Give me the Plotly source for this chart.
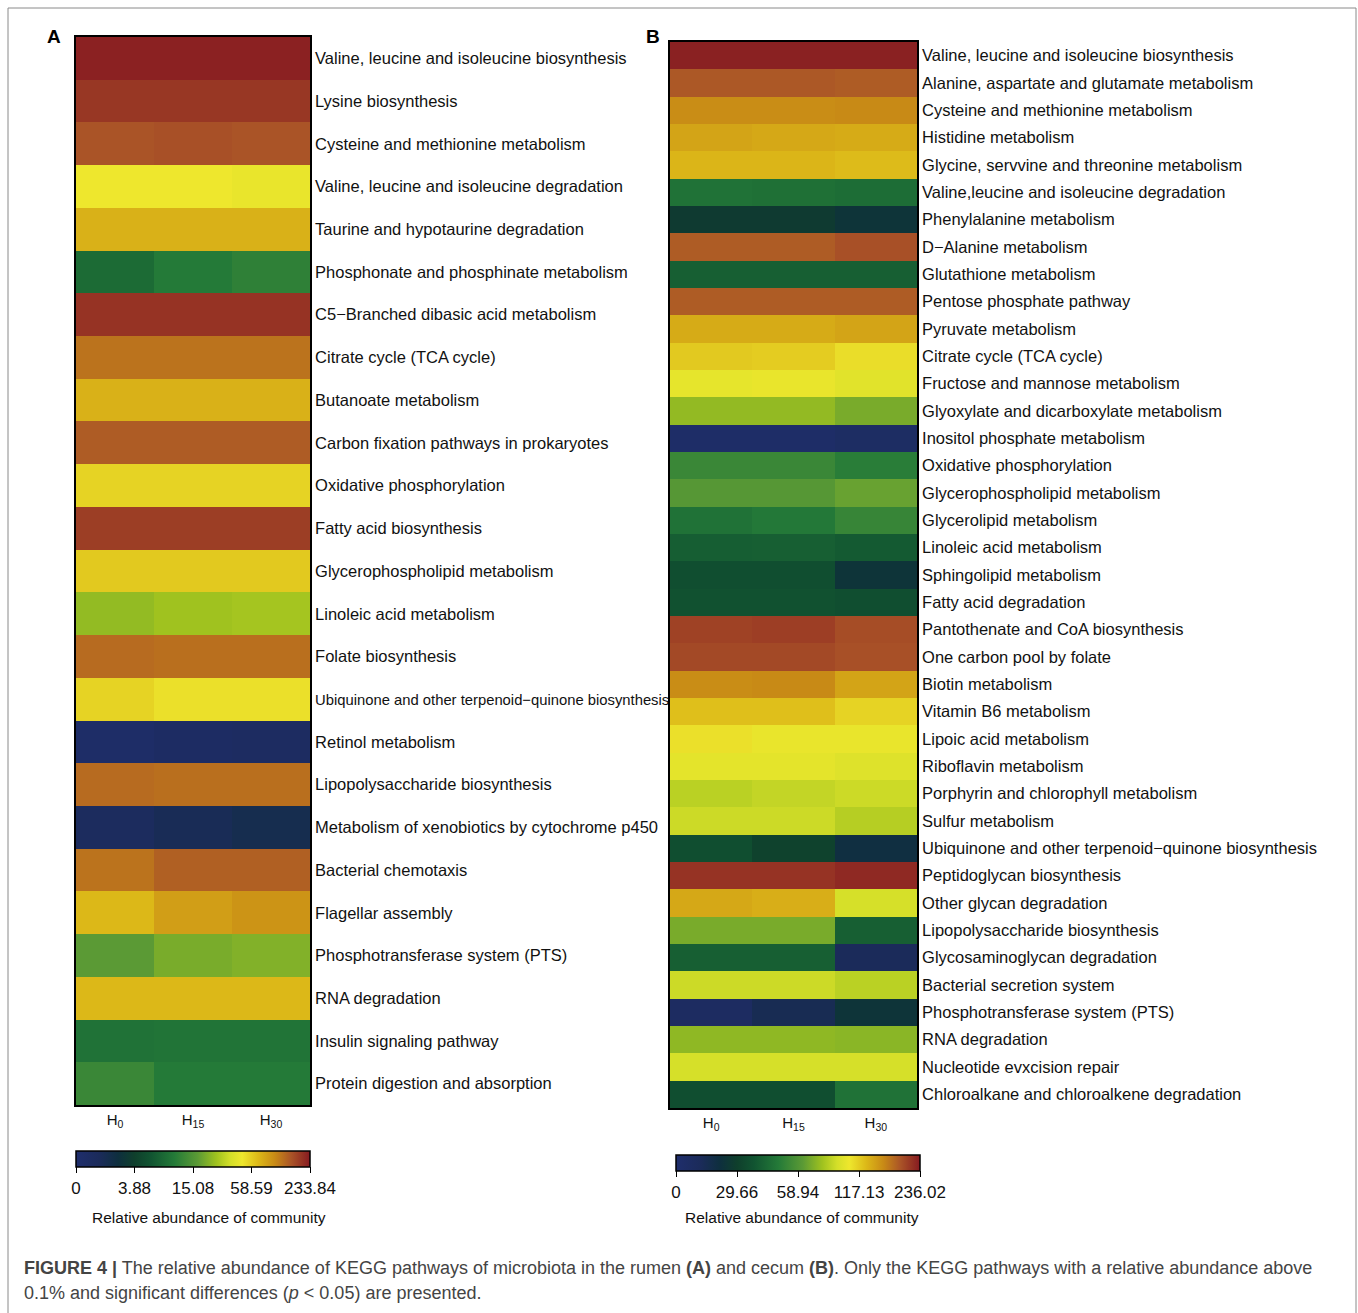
import numpy as np
import plotly.graph_objects as go

# ---------------- data ----------------
samples = ["H0", "H15", "H30"]
sample_labels = ["H<sub>0</sub>", "H<sub>15</sub>", "H<sub>30</sub>"]

pathways_a = [
    "Valine, leucine and isoleucine biosynthesis",
    "Lysine biosynthesis",
    "Cysteine and methionine metabolism",
    "Valine, leucine and isoleucine degradation",
    "Taurine and hypotaurine degradation",
    "Phosphonate and phosphinate metabolism",
    "C5\u2212Branched dibasic acid metabolism",
    "Citrate cycle (TCA cycle)",
    "Butanoate metabolism",
    "Carbon fixation pathways in prokaryotes",
    "Oxidative phosphorylation",
    "Fatty acid biosynthesis",
    "Glycerophospholipid metabolism",
    "Linoleic acid metabolism",
    "Folate biosynthesis",
    "Ubiquinone and other terpenoid\u2212quinone biosynthesis",
    "Retinol metabolism",
    "Lipopolysaccharide biosynthesis",
    "Metabolism of xenobiotics by cytochrome p450",
    "Bacterial chemotaxis",
    "Flagellar assembly",
    "Phosphotransferase system (PTS)",
    "RNA degradation",
    "Insulin signaling pathway",
    "Protein digestion and absorption",
]

h0_a = [226.8, 205.8, 177.8, 51.6, 86.6, 9.7, 209.3, 149.7, 86.6, 170.8, 56.9, 198.8, 62.1,
        29.9, 156.7, 56.9, 0.47, 156.7, 1.24, 149.7, 79.6, 18.6, 79.6, 10.6, 13.3]
h15_a = [226.8, 205.8, 181.3, 51.6, 86.6, 11.5, 209.3, 149.7, 86.6, 170.8, 56.9, 198.8, 62.1,
         32.5, 153.2, 53.4, 0.78, 153.2, 1.71, 167.3, 107.7, 24.7, 79.6, 10.8, 11.5]
h30_a = [226.8, 205.8, 177.8, 49.9, 86.6, 12.4, 209.3, 149.7, 86.6, 170.8, 56.9, 198.8, 62.1,
         33.4, 153.2, 53.4, 0.93, 153.2, 2.02, 167.3, 118.2, 26.4, 79.6, 10.8, 11.5]
ticks_a = [0, 3.88, 15.08, 58.59, 233.84]
ticklabels_a = ["0", "3.88", "15.08", "58.59", "233.84"]

pathways_b = [
    "Valine, leucine and isoleucine biosynthesis",
    "Alanine, aspartate and glutamate metabolism",
    "Cysteine and methionine metabolism",
    "Histidine metabolism",
    "Glycine, servvine and threonine metabolism",
    "Valine,leucine and isoleucine degradation",
    "Phenylalanine metabolism",
    "D\u2212Alanine metabolism",
    "Glutathione metabolism",
    "Pentose phosphate pathway",
    "Pyruvate metabolism",
    "Citrate cycle (TCA cycle)",
    "Fructose and mannose metabolism",
    "Glyoxylate and dicarboxylate metabolism",
    "Inositol phosphate metabolism",
    "Oxidative phosphorylation",
    "Glycerophospholipid metabolism",
    "Glycerolipid metabolism",
    "Linoleic acid metabolism",
    "Sphingolipid metabolism",
    "Fatty acid degradation",
    "Pantothenate and CoA biosynthesis",
    "One carbon pool by folate",
    "Biotin metabolism",
    "Vitamin B6 metabolism",
    "Lipoic acid metabolism",
    "Riboflavin metabolism",
    "Porphyrin and chlorophyll metabolism",
    "Sulfur metabolism",
    "Ubiquinone and other terpenoid\u2212quinone biosynthesis",
    "Peptidoglycan biosynthesis",
    "Other glycan degradation",
    "Lipopolysaccharide biosynthesis",
    "Glycosaminoglycan degradation",
    "Bacterial secretion system",
    "Phosphotransferase system (PTS)",
    "RNA degradation",
    "Nucleotide evxcision repair",
    "Chloroalkane and chloroalkene degradation",
]

h0_b = [231.3, 195.6, 162.3, 145.7, 133.8, 47.2, 27.3, 193.2, 41.4, 193.2, 140.9, 119.5, 104.3,
        78.7, 3.6, 54.3, 61.3, 47.2, 40.8, 35.5, 36.7, 209.9, 205.1, 162.3, 126.6, 110.2, 103.2,
        89.2, 93.9, 35.5, 219.4, 143.3, 71.7, 41.4, 93.9, 7.1, 77.6, 97.3, 35.5]
h15_b = [231.3, 195.6, 162.3, 143.3, 133.8, 46.6, 27.3, 193.2, 41.4, 193.2, 140.9, 117.1, 105.5,
         78.7, 3.6, 54.3, 61.3, 49.0, 41.4, 35.5, 36.7, 212.2, 205.1, 164.7, 126.6, 105.5, 103.2,
         91.5, 93.9, 30.8, 219.4, 138.5, 71.7, 41.4, 93.9, 14.2, 77.6, 97.3, 35.5]
h30_b = [231.3, 193.2, 164.7, 140.9, 129.0, 45.5, 23.7, 200.4, 41.4, 193.2, 145.7, 111.3, 102.0,
         71.7, 5.9, 50.7, 67.1, 53.7, 39.6, 23.7, 35.5, 202.7, 200.4, 145.7, 114.8, 105.5, 100.8,
         93.9, 88.0, 20.2, 226.5, 97.3, 41.4, 11.9, 89.2, 23.7, 76.4, 97.3, 47.2]
ticks_b = [0, 29.66, 58.94, 117.13, 236.02]
ticklabels_b = ["0", "29.66", "58.94", "117.13", "236.02"]

# ---------------- styling ----------------
W, H = 1358, 1313
FONT = "Liberation Sans, Arial, Helvetica, sans-serif"
tick_pos = [0, 0.25, 0.5, 0.75, 1.0]

colorscale = [
    [0.00, "#1f2e6c"],
    [0.10, "#1b2b5a"],
    [0.18, "#0e2f3e"],
    [0.25, "#0f3f2c"],
    [0.32, "#115431"],
    [0.42, "#247a38"],
    [0.52, "#5b9a35"],
    [0.60, "#a0c21f"],
    [0.66, "#d4df29"],
    [0.71, "#eee72d"],
    [0.78, "#dcb818"],
    [0.85, "#c88a16"],
    [0.92, "#aa5427"],
    [1.00, "#861a21"],
]


def px_x(p):
    return p / W


def px_y(p):
    return 1 - p / H


def to_pos(vals, ticks):
    return np.interp(np.array(vals, dtype=float), ticks, tick_pos)


za = np.column_stack([to_pos(h0_a, ticks_a), to_pos(h15_a, ticks_a), to_pos(h30_a, ticks_a)])
zb = np.column_stack([to_pos(h0_b, ticks_b), to_pos(h15_b, ticks_b), to_pos(h30_b, ticks_b)])
raw_a = np.column_stack([h0_a, h15_a, h30_a])
raw_b = np.column_stack([h0_b, h15_b, h30_b])

fig = go.Figure()
fig.add_trace(go.Heatmap(
    z=za, x=list(range(3)), y=list(range(len(pathways_a))), coloraxis="coloraxis",
    customdata=raw_a, hovertemplate="%{customdata:.2f}<extra></extra>",
    xaxis="x", yaxis="y"))
fig.add_trace(go.Heatmap(
    z=zb, x=list(range(3)), y=list(range(len(pathways_b))), coloraxis="coloraxis2",
    customdata=raw_b, hovertemplate="%{customdata:.2f}<extra></extra>",
    xaxis="x2", yaxis="y2"))

ticktext_a = [p if not p.startswith("Ubiquinone") else
              '<span style="font-size:14.8px">' + p + "</span>" for p in pathways_a]

axis_common = dict(showgrid=False, zeroline=False, showline=True, mirror=True,
                   linecolor="black", linewidth=1.5, ticks="")


def cbar(xc, ytop, length, labels):
    return dict(orientation="h", x=px_x(xc), xanchor="center", xref="paper",
                y=px_y(ytop), yanchor="top", yref="paper",
                len=length, lenmode="pixels", thickness=16, thicknessmode="pixels",
                xpad=0, ypad=0, outlinecolor="black", outlinewidth=1.5,
                tickvals=tick_pos, ticktext=labels, ticks="outside", ticklen=6,
                tickcolor="black", tickwidth=1.2,
                tickfont=dict(size=17, color="#111", family=FONT))


fig.update_layout(
    width=W, height=H, margin=dict(l=0, r=0, t=0, b=0),
    paper_bgcolor="white", plot_bgcolor="white",
    font=dict(family=FONT, size=16, color="#111"),
    xaxis=dict(domain=[px_x(76), px_x(310)], anchor="y", range=[-0.5, 2.5],
               tickvals=[0, 1, 2], ticktext=sample_labels, tickfont=dict(size=15), **axis_common),
    yaxis=dict(domain=[px_y(1105), px_y(37)], anchor="x", side="right",
               range=[len(pathways_a) - 0.5, -0.5], tickvals=list(range(len(pathways_a))),
               ticktext=ticktext_a, tickfont=dict(size=16.5), ticklabelstandoff=0, **axis_common),
    xaxis2=dict(domain=[px_x(670), px_x(917)], anchor="y2", range=[-0.5, 2.5],
                tickvals=[0, 1, 2], ticktext=sample_labels, tickfont=dict(size=15), **axis_common),
    yaxis2=dict(domain=[px_y(1108), px_y(42)], anchor="x2", side="right",
                range=[len(pathways_b) - 0.5, -0.5], tickvals=list(range(len(pathways_b))),
                ticktext=pathways_b, tickfont=dict(size=16.5), ticklabelstandoff=0, **axis_common),
    coloraxis=dict(colorscale=colorscale, cmin=0, cmax=1,
                   colorbar=cbar(193, 1151, 234, ticklabels_a)),
    coloraxis2=dict(colorscale=colorscale, cmin=0, cmax=1,
                    colorbar=cbar(798, 1155, 244, ticklabels_b)),
    showlegend=False,
)

ann = []
ann.append(dict(text="<b>A</b>", x=px_x(54), y=px_y(36), xref="paper", yref="paper",
                showarrow=False, font=dict(size=19, color="black"), xanchor="center", yanchor="middle"))
ann.append(dict(text="<b>B</b>", x=px_x(653), y=px_y(36), xref="paper", yref="paper",
                showarrow=False, font=dict(size=19, color="black"), xanchor="center", yanchor="middle"))
ann.append(dict(text="Relative abundance of community", x=px_x(209), y=px_y(1217), xref="paper",
                yref="paper", showarrow=False, font=dict(size=15.5, color="#111"),
                xanchor="center", yanchor="middle"))
ann.append(dict(text="Relative abundance of community", x=px_x(802), y=px_y(1217), xref="paper",
                yref="paper", showarrow=False, font=dict(size=15.5, color="#111"),
                xanchor="center", yanchor="middle"))
ann.append(dict(text="<b>FIGURE 4 |</b> The relative abundance of KEGG pathways of microbiota in the rumen "
                     "<b>(A)</b> and cecum <b>(B)</b>. Only the KEGG pathways with a relative abundance above",
                x=px_x(22), y=px_y(1268), xref="paper", yref="paper", showarrow=False,
                font=dict(size=18, color="#444444"), xanchor="left", yanchor="middle", align="left"))
ann.append(dict(text="0.1% and significant differences (<i>p</i> &lt; 0.05) are presented.",
                x=px_x(22), y=px_y(1293), xref="paper", yref="paper", showarrow=False,
                font=dict(size=18, color="#444444"), xanchor="left", yanchor="middle", align="left"))
fig.update_layout(annotations=ann)

fig.add_shape(type="rect", xref="paper", yref="paper",
              x0=px_x(8), x1=px_x(1356), y0=-0.05, y1=px_y(8),
              line=dict(color="#8a8a8a", width=1), fillcolor="rgba(0,0,0,0)", layer="below")

fig.write_html("out.html", config={"displayModeBar": False},
               post_script="document.body.style.margin='0';document.body.style.overflow='hidden';")
